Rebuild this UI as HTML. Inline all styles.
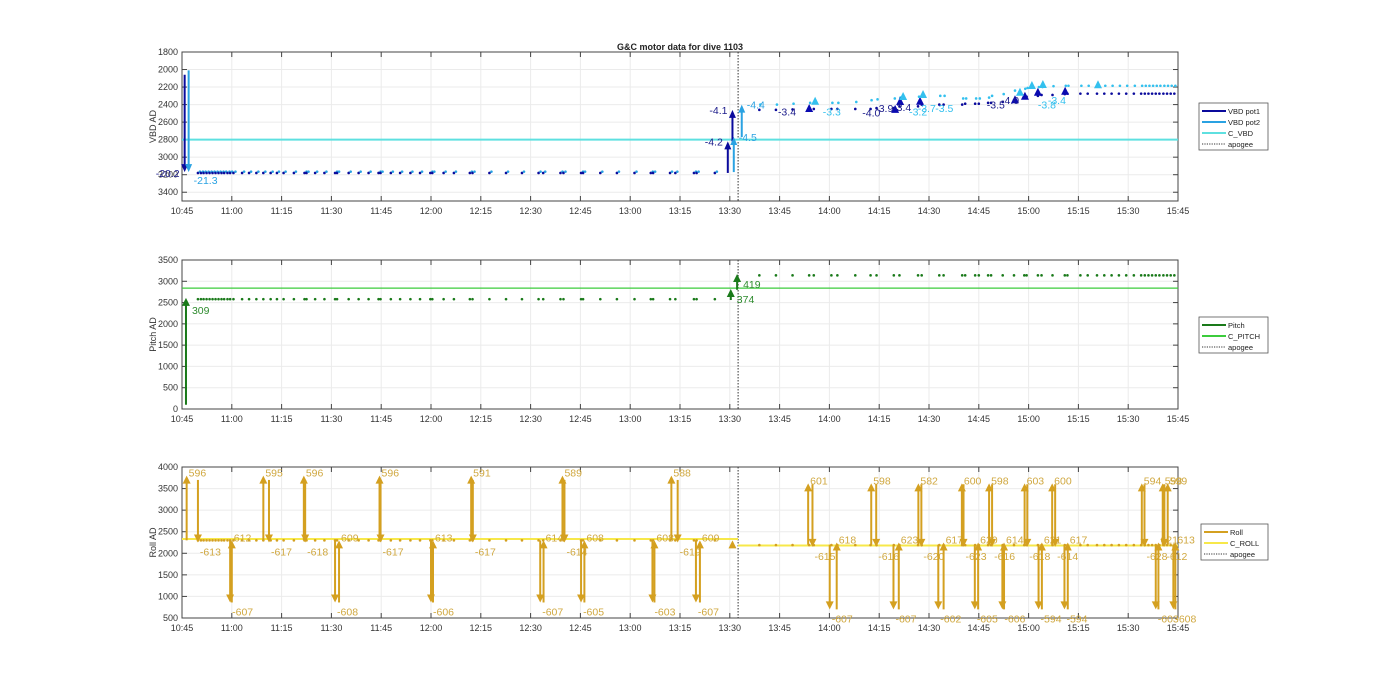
<!DOCTYPE html>
<html><head><meta charset="utf-8"><title>G&C motor data for dive 1103</title>
<style>
html,body{margin:0;padding:0;background:#fff;}
svg{display:block;font-family:"Liberation Sans",sans-serif;}
</style></head>
<body>
<svg id="chart" width="1400" height="693" viewBox="0 0 1400 693" xmlns="http://www.w3.org/2000/svg">
<rect x="0" y="0" width="1400" height="693" fill="#fff"/>
<text x="680" y="50" text-anchor="middle" font-size="9" font-weight="bold" fill="#222">G&amp;C motor data for dive 1103</text>
</svg>
<script>
// ---- shared data (minutes after 10:45) ----
const xTickLabels = ["10:45","11:00","11:15","11:30","11:45","12:00","12:15","12:30","12:45","13:00","13:15","13:30","13:45","14:00","14:15","14:30","14:45","15:00","15:15","15:30","15:45"];
const apogeeMin = 167.5;
const sampleBefore = [4.8,5.7,6.5,7.4,8.3,9.2,10.1,11,11.9,12.7,13.7,14.5,15.5,18.1,20.2,22.4,24.5,26.7,28.6,30.6,33.7,36.9,37.5,40.1,42.9,46.1,46.7,50.2,53.2,56.2,59.2,59.8,62.9,65.7,68.8,71.7,74.8,75.4,78.8,81.9,86.7,87.5,92.6,97.6,102.4,107.4,108.8,114,114.9,120.2,120.8,126,131,136.3,141.2,141.9,147,148.6,154.2,155,160.5];
const sampleAfter = [173.9,178.9,183.9,188.9,190.3,195.6,197.4,202.8,207.4,209.2,214.4,216.1,221.7,222.8,228.1,229.4,235,235.9,238.9,240,242.8,243.7,247.2,250.6,253.7,254.4,257.8,258.9,262.2,265.9,266.7,270.6,272.8,275.6,277.8,280,282.2,284.4,286.7,288.9,290,291.1,292.2,293.3,294.4,295.6,296.7,297.8,298.9];

// ---- VBD ----
const vbdTicks = [1800,2000,2200,2400,2600,2800,3000,3200,3400];
const vbdPot1Before = 3180;
const vbdPot2Before = 3165;
const vbdPot1After = [2460,2460,2455,2455,2450,2450,2450,2450,2450,2440,2440,2420,2420,2400,2400,2400,2400,2390,2390,2390,2380,2380,2370,2350,2320,2310,2300,2290,2290,2280,2275,2275,2275,2275,2275,2275,2275,2275,2275,2275,2275,2275,2275,2275,2275,2275,2275,2275,2275];
const vbdPot2After = [2400,2400,2390,2380,2380,2380,2380,2370,2350,2340,2330,2320,2310,2300,2300,2300,2330,2330,2330,2330,2320,2300,2280,2240,2220,2210,2200,2200,2190,2185,2185,2185,2185,2185,2185,2185,2185,2185,2185,2185,2185,2185,2185,2185,2185,2185,2185,2185,2185];
const cVbd = 2800;
const vbdArrT = [0.8, 2.0, 164.4, 165.8, 166.2, 168.6];
const vbdArrFrom = [2060, 2010, 3180, 2820, 3170, 2770];
const vbdArrTo = [3170, 3170, 2820, 2460, 2770, 2400];
const vbdArrSeries = [1, 2, 1, 1, 2, 2];
const vbdArrLbl = ["-20.2","-21.3","-4.2","-4.1","-4.5","-4.4"];
const vbdTriT = [188.9,214.8,216.3,222.3,250.9,253.9,257.8,266,190.7,217.2,223.2,252.4,256,259.3,275.9];
const vbdTriV = [2450,2460,2370,2367,2350,2310,2265,2253,2367,2313,2290,2265,2188,2176,2180];
const vbdTriSeries = [1,1,1,1,1,1,1,1,2,2,2,2,2,2,2];
const vbdLblT = [179.5,193,204.9,208.8,214.2,219,221.6,226.9,242.4,246.7,257.8,260.8];
const vbdLblV = [2480,2480,2490,2440,2430,2480,2440,2440,2400,2350,2400,2350];
const vbdLblSeries = [1,2,1,1,1,2,2,2,1,1,2,2];
const vbdLblTxt = ["-3.4","-3.3","-4.0","-3.9","-3.4","-3.2","-3.7","-3.5","-3.5","-4.0","-3.8","-3.4"];

// ---- Pitch ----
const pitchTicks = [0,500,1000,1500,2000,2500,3000,3500];
const pitchBefore = 2580;
const pitchAfter = 3140;
const cPitch = 2840;
const pitchArrT = [1.2, 165.3, 167.2];
const pitchArrFrom = [100, 2560, 2800];
const pitchArrTo = [2610, 2820, 3170];
const pitchArrLbl = ["309","374","419"];

// ---- Roll ----
const rollTicks = [500,1000,1500,2000,2500,3000,3500,4000];
const rollBefore = 2300;
const rollAfter = 2190;
const cRollBefore = 2330;
const cRollAfter = 2180;
const rollT = [1.4,4.8,14.5,15.0,24.5,26.2,36.7,37.1,46.1,47.3,59.5,59.8,75,75.6,87.1,87.6,107.9,108.9,114.6,115.2,120.2,121.2,141.7,142.3,147.4,149.3,154.8,156,165.8,
 188.6,189.9,195.1,197.2,207.6,209.1,214.3,215.9,221.8,222.7,227.8,229.4,234.9,235.4,238.8,239.8,243.1,244,247.1,247.6,253.8,254.6,258,259,262.1,263,265.8,266.8,289.1,289.9,293.3,294.1,295.4,295.9,296.9,298.6,299.2];
const rollFrom = [2300,3700,2300,860,2300,3700,2300,3700,2300,860,2300,3700,2300,860,2300,3700,2300,860,2300,3700,2300,860,2300,860,2300,3700,2300,860,2150,
 2200,3600,2200,700,2200,3600,2200,700,2200,3600,2200,700,2200,3600,2200,700,2200,3600,2200,700,2200,3600,2200,700,2200,3600,2200,700,2200,3600,2200,700,2200,3600,2200,2200,700];
const rollTo = [3800,2250,860,2300,3800,2250,3800,2250,860,2300,3800,2250,860,2300,3800,2250,860,2300,3800,2250,860,2300,860,2300,3800,2250,860,2300,2300,
 3620,2150,700,2250,3620,2150,700,2250,3620,2150,700,2250,3620,2150,700,2250,3620,2150,700,2250,3620,2150,700,2250,3620,2150,700,2250,3620,2150,700,2250,3620,2150,3620,700,2250];
const rollLbl = ["596","-613","-607","612","595","-617","596","-618","-608","609","596","-617","-606","613","591","-617","-607","614","589","-614","-605","608","-603","608","588","-619","-607","609","",
 "601","-615","-607","618","598","-616","-607","623","582","-620","-602","617","600","-623","-605","620","598","-616","-606","614","603","-618","-594","621","600","-614","-594","617","594","-628","-603","621","598","-612","599","-608","613"];

// ---- layout ----
const svg = document.getElementById('chart');
const NS = 'http://www.w3.org/2000/svg';
const X0 = 182, X1 = 1178;
function xs(m){ return X0 + m/300*(X1-X0); }
function mk(tag, attrs, parent){
  const e = document.createElementNS(NS, tag);
  for (const k in attrs) e.setAttribute(k, attrs[k]);
  (parent||svg).appendChild(e);
  return e;
}
function makeY(top, bottom, vmin, vmax, reversed){
  return v => reversed ? top + (v - vmin)/(vmax - vmin)*(bottom - top)
                       : bottom - (v - vmin)/(vmax - vmin)*(bottom - top);
}
function axes(name, top, bottom, ticks, ys, title){
  const g = mk('g', {});
  
  
  for (let i=0;i<xTickLabels.length;i++){
    const x = xs(i*15);
    const gl = mk('line',{x1:x,x2:x,y1:top,y2:bottom,stroke:'#ebebeb','stroke-width':1},g);
    
    
    mk('line',{x1:x,x2:x,y1:bottom,y2:bottom-5,stroke:'#444','stroke-width':1},g);
    mk('line',{x1:x,x2:x,y1:top,y2:top+5,stroke:'#444','stroke-width':1},g);
    const t = mk('text',{x:x,y:bottom+13,'text-anchor':'middle','font-size':9,fill:'#333'},g);
    t.textContent = xTickLabels[i];
    
    
  }
  for (const v of ticks){
    const y = ys(v);
    const gl = mk('line',{x1:X0,x2:X1,y1:y,y2:y,stroke:'#ebebeb','stroke-width':1},g);
    
    
    mk('line',{x1:X0,x2:X0+5,y1:y,y2:y,stroke:'#444'},g);
    mk('line',{x1:X1,x2:X1-5,y1:y,y2:y,stroke:'#444'},g);
    const t = mk('text',{x:X0-4,y:y+3,'text-anchor':'end','font-size':9,fill:'#333'},g);
    t.textContent = v;
    
    
  }
  const r = mk('rect',{x:X0,y:top,width:X1-X0,height:bottom-top,fill:'none',stroke:'#444','stroke-width':1},g);
  
  
  const cy = (top+bottom)/2;
  const yt = mk('text',{x:156,y:cy,'text-anchor':'middle','font-size':9,fill:'#333',transform:'rotate(-90 156 '+cy+')'},g);
  yt.textContent = title;
  
  
  const ax = xs(apogeeMin);
  const ap = mk('line',{x1:ax,x2:ax,y1:top,y2:bottom,stroke:'#333','stroke-width':1,'stroke-dasharray':'1.5,1.5'},g);
  
  
  return g;
}
function arrow(g, x, y1, y2, color, w, hw, hl, name){
  const dir = y2 < y1 ? 1 : -1;
  const e = mk('g',{},g);
  
  
  const ly = y2 + dir*hl*0.8;
  mk('line',{x1:x,x2:x,y1:y1,y2:ly,stroke:color,'stroke-width':w},e);
  mk('polygon',{points:(x-hw)+','+(y2+dir*hl)+' '+(x+hw)+','+(y2+dir*hl)+' '+x+','+y2,fill:color},e);
  return e;
}
function dot(g, x, y, color, r, name){
  const c = mk('circle',{cx:x,cy:y,r:r,fill:color},g);
  
  
}
function label(g, x, y, txt, color, anchor, name){
  const t = mk('text',{x:x,y:y,'font-size':10.5,fill:color,'text-anchor':anchor||'start'},g);
  t.textContent = txt;
  
  
}
function legend(name, x, y, w, entries){
  const g = mk('g',{});
  
  
  const h = entries.length*11+3;
  mk('rect',{x:x,y:y,width:w,height:h,fill:'#fff',stroke:'#555','stroke-width':0.8},g);
  entries.forEach((en,i)=>{
    const yy = y + 8 + i*11;
    const le = mk('g',{},g);
    
    
    mk('line',{x1:x+3,x2:x+27,y1:yy,y2:yy,stroke:en[1],'stroke-width':en[2],'stroke-dasharray':en[3]||'none'},le);
    const t = mk('text',{x:x+29,y:yy+3,'font-size':7.5,fill:'#222'},le);
    t.textContent = en[0];
  });
}

// ---- VBD panel ----
const P1='#0a0a9c', P2='#2aa2e2', PT2='#33c0ee', CV='#5ee0e0';
const vT=52, vB=201;
const yv = makeY(vT, vB, 1800, 3500, true);
const gv = axes('vbd', vT, vB, vbdTicks, yv, 'VBD AD');
const cv = mk('line',{x1:X0,x2:X1,y1:yv(cVbd),y2:yv(cVbd),stroke:CV,'stroke-width':2},gv);


sampleBefore.forEach(m=>{ dot(gv, xs(m), yv(vbdPot1Before), P1, 1.3, 'vbd-pot1-point'); dot(gv, xs(m)+2, yv(vbdPot2Before), P2, 1.3, 'vbd-pot2-point'); });
sampleAfter.forEach((m,i)=>{ dot(gv, xs(m), yv(vbdPot1After[i]), P1, 1.3, 'vbd-pot1-point'); dot(gv, xs(m)+1, yv(vbdPot2After[i]), PT2, 1.3, 'vbd-pot2-point'); });
vbdArrT.forEach((m,i)=>{
  const c = vbdArrSeries[i]===1?P1:P2;
  arrow(gv, xs(m), yv(vbdArrFrom[i]), yv(vbdArrTo[i]), c, 2, 3.5, 8, 'vbd-move-arrow');
  const x = xs(m), y = yv(vbdArrTo[i]);
  const left = vbdArrSeries[i]===1;
  const up = vbdArrTo[i] < vbdArrFrom[i];
  let ly = up ? y+4 : y+12;
  if (left && !up) ly = y+5;
  label(gv, left ? x-5 : x+5, ly, vbdArrLbl[i], left?'#1a1a8a':P2, left?'end':'start', 'vbd-move-label');
});
vbdTriT.forEach((m,i)=>{
  const c = vbdTriSeries[i]===1?'#0a0ab0':PT2;
  const x = xs(m), y = yv(vbdTriV[i]);
  const p = mk('polygon',{points:(x-4)+','+(y+3)+' '+(x+4)+','+(y+3)+' '+x+','+(y-5),fill:c},gv);
  
  
});
vbdLblT.forEach((m,i)=>{
  label(gv, xs(m), yv(vbdLblV[i])+4, vbdLblTxt[i], vbdLblSeries[i]===1?'#1a1a8a':PT2, 'start', 'vbd-move-label');
});
legend('vbd-legend', 1199, 103, 69, [['VBD pot1',P1,2],['VBD pot2',P2,2],['C_VBD',CV,2],['apogee','#333',1,'1.2,1.2']]);

// ---- Pitch panel ----
const PC='#1a7a1a', CP='#3ccc3c';
const pT=260, pB=409;
const yp = makeY(pT, pB, 0, 3500, false);
const gp = axes('pitch', pT, pB, pitchTicks, yp, 'Pitch AD');
const cpl = mk('line',{x1:X0,x2:X1,y1:yp(cPitch),y2:yp(cPitch),stroke:CP,'stroke-width':1.3},gp);


sampleBefore.forEach(m=>dot(gp, xs(m), yp(pitchBefore), PC, 1.3, 'pitch-point'));
sampleAfter.forEach(m=>dot(gp, xs(m), yp(pitchAfter), PC, 1.3, 'pitch-point'));
pitchArrT.forEach((m,i)=>{
  arrow(gp, xs(m), yp(pitchArrFrom[i]), yp(pitchArrTo[i]), PC, 2, 4, 8, 'pitch-move-arrow');
  label(gp, xs(m)+6, yp(pitchArrTo[i])+ (i===0?16:14), pitchArrLbl[i], '#2e8b2e', 'start', 'pitch-move-label');
});
legend('pitch-legend', 1199, 317, 69, [['Pitch',PC,2],['C_PITCH',CP,2],['apogee','#333',1,'1.2,1.2']]);

// ---- Roll panel ----
const RC='#d4a020', CR='#f7e84a';
const rT=467, rB=618;
const yr = makeY(rT, rB, 500, 4000, false);
const gr = axes('roll', rT, rB, rollTicks, yr, 'Roll AD');
const ax = xs(apogeeMin);
const cr1 = mk('line',{x1:X0,x2:ax,y1:yr(cRollBefore),y2:yr(cRollBefore),stroke:CR,'stroke-width':2},gr);


const cr2 = mk('line',{x1:ax,x2:X1,y1:yr(cRollAfter),y2:yr(cRollAfter),stroke:CR,'stroke-width':2},gr);


sampleBefore.forEach(m=>dot(gr, xs(m), yr(rollBefore), RC, 1.3, 'roll-point'));
sampleAfter.forEach(m=>dot(gr, xs(m), yr(rollAfter), RC, 1.3, 'roll-point'));
rollT.forEach((m,i)=>{
  arrow(gr, xs(m), yr(rollFrom[i]), yr(rollTo[i]), RC, 2, 4, 8, 'roll-move-arrow');
  if (rollLbl[i]){
    const up = rollTo[i] > rollFrom[i];
    const y = yr(rollTo[i]);
    label(gr, xs(m)+2, up ? y+1 : y+13, rollLbl[i], '#d0a840', 'start', 'roll-move-label');
  }
});
legend('roll-legend', 1201, 524, 67, [['Roll',RC,2],['C_ROLL',CR,2],['apogee','#333',1,'1.2,1.2']]);
</script>
</body></html>
